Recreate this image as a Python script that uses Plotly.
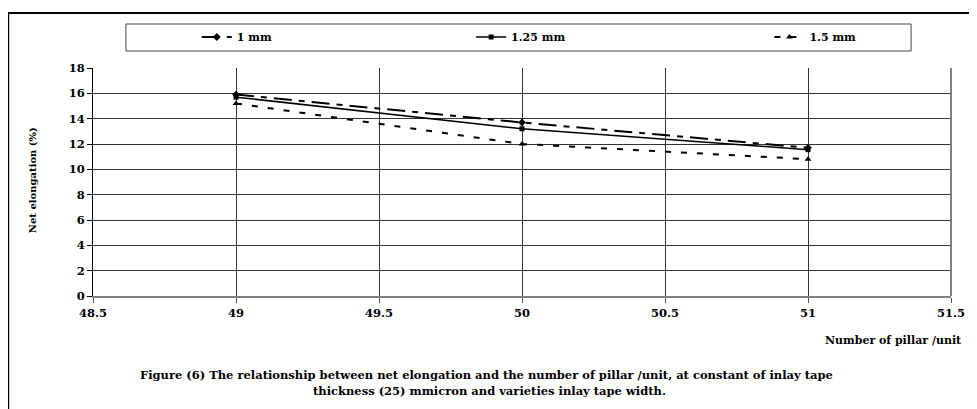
import plotly.graph_objects as go

# ---- data ----
pillars = [49, 50, 51]
elong_1mm = [15.9, 13.7, 11.7]
elong_125mm = [15.7, 13.2, 11.55]
elong_15mm = [15.2, 12.0, 10.8]
series_names = ["1 mm", "1.25 mm", "1.5 mm"]

x_ticks = [48.5, 49, 49.5, 50, 50.5, 51, 51.5]
x_tick_labels = ["48.5", "49", "49.5", "50", "50.5", "51", "51.5"]
y_ticks = [0, 2, 4, 6, 8, 10, 12, 14, 16, 18]
y_tick_labels = ["0", "2", "4", "6", "8", "10", "12", "14", "16", "18"]

FONT = "DejaVu Serif"
OFF = 8  # page body margin
W, H = 977 - OFF, 409 - OFF
L, R, T, B = 93 - OFF, 24, 68 - OFF, 113
PW, PH = W - L - R, H - T - B


def px(xs):
    return (xs - OFF - L) / PW


def py(ys):
    return (OFF + H - B - ys) / PH


fig = go.Figure()
fig.add_trace(go.Scatter(
    x=pillars, y=elong_1mm, name=series_names[0], mode="lines+markers",
    line=dict(color="black", width=2, dash="18px,7px,6px,7px"),
    marker=dict(symbol="diamond", size=6, color="black"),
    legend="legend", showlegend=True))
fig.add_trace(go.Scatter(
    x=pillars, y=elong_125mm, name=series_names[1], mode="lines+markers",
    line=dict(color="black", width=1.5),
    marker=dict(symbol="square", size=5, color="black"),
    legend="legend2", showlegend=True))
fig.add_trace(go.Scatter(
    x=pillars, y=elong_15mm, name=series_names[2], mode="lines+markers",
    line=dict(color="black", width=2, dash="6px,10px"),
    marker=dict(symbol="triangle-up", size=6, color="black"),
    legend="legend3", showlegend=True))

leg_common = dict(orientation="h", yanchor="middle", xanchor="left",
                  bgcolor="rgba(0,0,0,0)", borderwidth=0,
                  font=dict(family=FONT, size=11, color="black", weight="bold"))
ly = py(37)
tickfont = dict(family=FONT, size=11.5, color="black", weight="bold")

fig.update_layout(
    width=W, height=H,
    showlegend=True,
    margin=dict(l=L, r=R, t=T, b=B, pad=0),
    paper_bgcolor="white", plot_bgcolor="white",
    font=dict(family=FONT, color="black"),
    legend=dict(x=px(197), y=ly, **leg_common),
    legend2=dict(x=px(472), y=ly, **leg_common),
    legend3=dict(x=px(771), y=ly, **leg_common),
    xaxis=dict(range=[48.5, 51.5], tickvals=x_ticks, ticktext=x_tick_labels,
               showgrid=True, gridcolor="#333333", gridwidth=1,
               showline=True, linecolor="#808080", linewidth=2,
               ticks="outside", ticklen=5, tickcolor="#555555",
               tickfont=tickfont, zeroline=False, fixedrange=True),
    yaxis=dict(range=[0, 18], tickvals=y_ticks, ticktext=y_tick_labels,
               showgrid=True, gridcolor="#333333", gridwidth=1,
               showline=True, linecolor="black", linewidth=1,
               ticks="outside", ticklen=5, tickcolor="black",
               tickfont=tickfont, zeroline=False, fixedrange=True),
    shapes=[
        # legend box
        dict(type="rect", xref="paper", yref="paper",
             x0=px(126), x1=px(913), y0=py(51), y1=py(24),
             line=dict(color="#444444", width=1), fillcolor="rgba(0,0,0,0)", layer="below"),
        # outer frame
        dict(type="rect", xref="paper", yref="paper",
             x0=px(8), x1=px(1000), y0=py(430), y1=py(13),
             line=dict(color="black", width=2), fillcolor="rgba(0,0,0,0)"),
        # right plot border
        dict(type="line", xref="paper", yref="paper",
             x0=1, x1=1, y0=0, y1=1, line=dict(color="#808080", width=2)),
    ],
    annotations=[
        dict(text="<b>Net elongation (%)</b>", xref="paper", yref="paper",
             x=px(32), y=py(180), xanchor="center", yanchor="middle",
             textangle=-90, showarrow=False,
             font=dict(family=FONT, size=10, color="black")),
        dict(text="<b>Number of pillar /unit</b>", xref="paper", yref="paper",
             x=px(966), y=py(340), xanchor="right", yanchor="middle", showarrow=False,
             font=dict(family=FONT, size=11, color="black")),
        dict(text="<b>Figure (6) The relationship between net elongation and the number of pillar /unit, at constant of inlay tape</b>",
             xref="paper", yref="paper", x=px(487), y=py(375),
             xanchor="center", yanchor="middle", showarrow=False,
             font=dict(family=FONT, size=11.5, color="black")),
        dict(text="<b>thickness (25) mmicron and varieties inlay tape width.</b>",
             xref="paper", yref="paper", x=px(490), y=py(391),
             xanchor="center", yanchor="middle", showarrow=False,
             font=dict(family=FONT, size=11.5, color="black")),
    ],
)

fig.write_html("out.html")
